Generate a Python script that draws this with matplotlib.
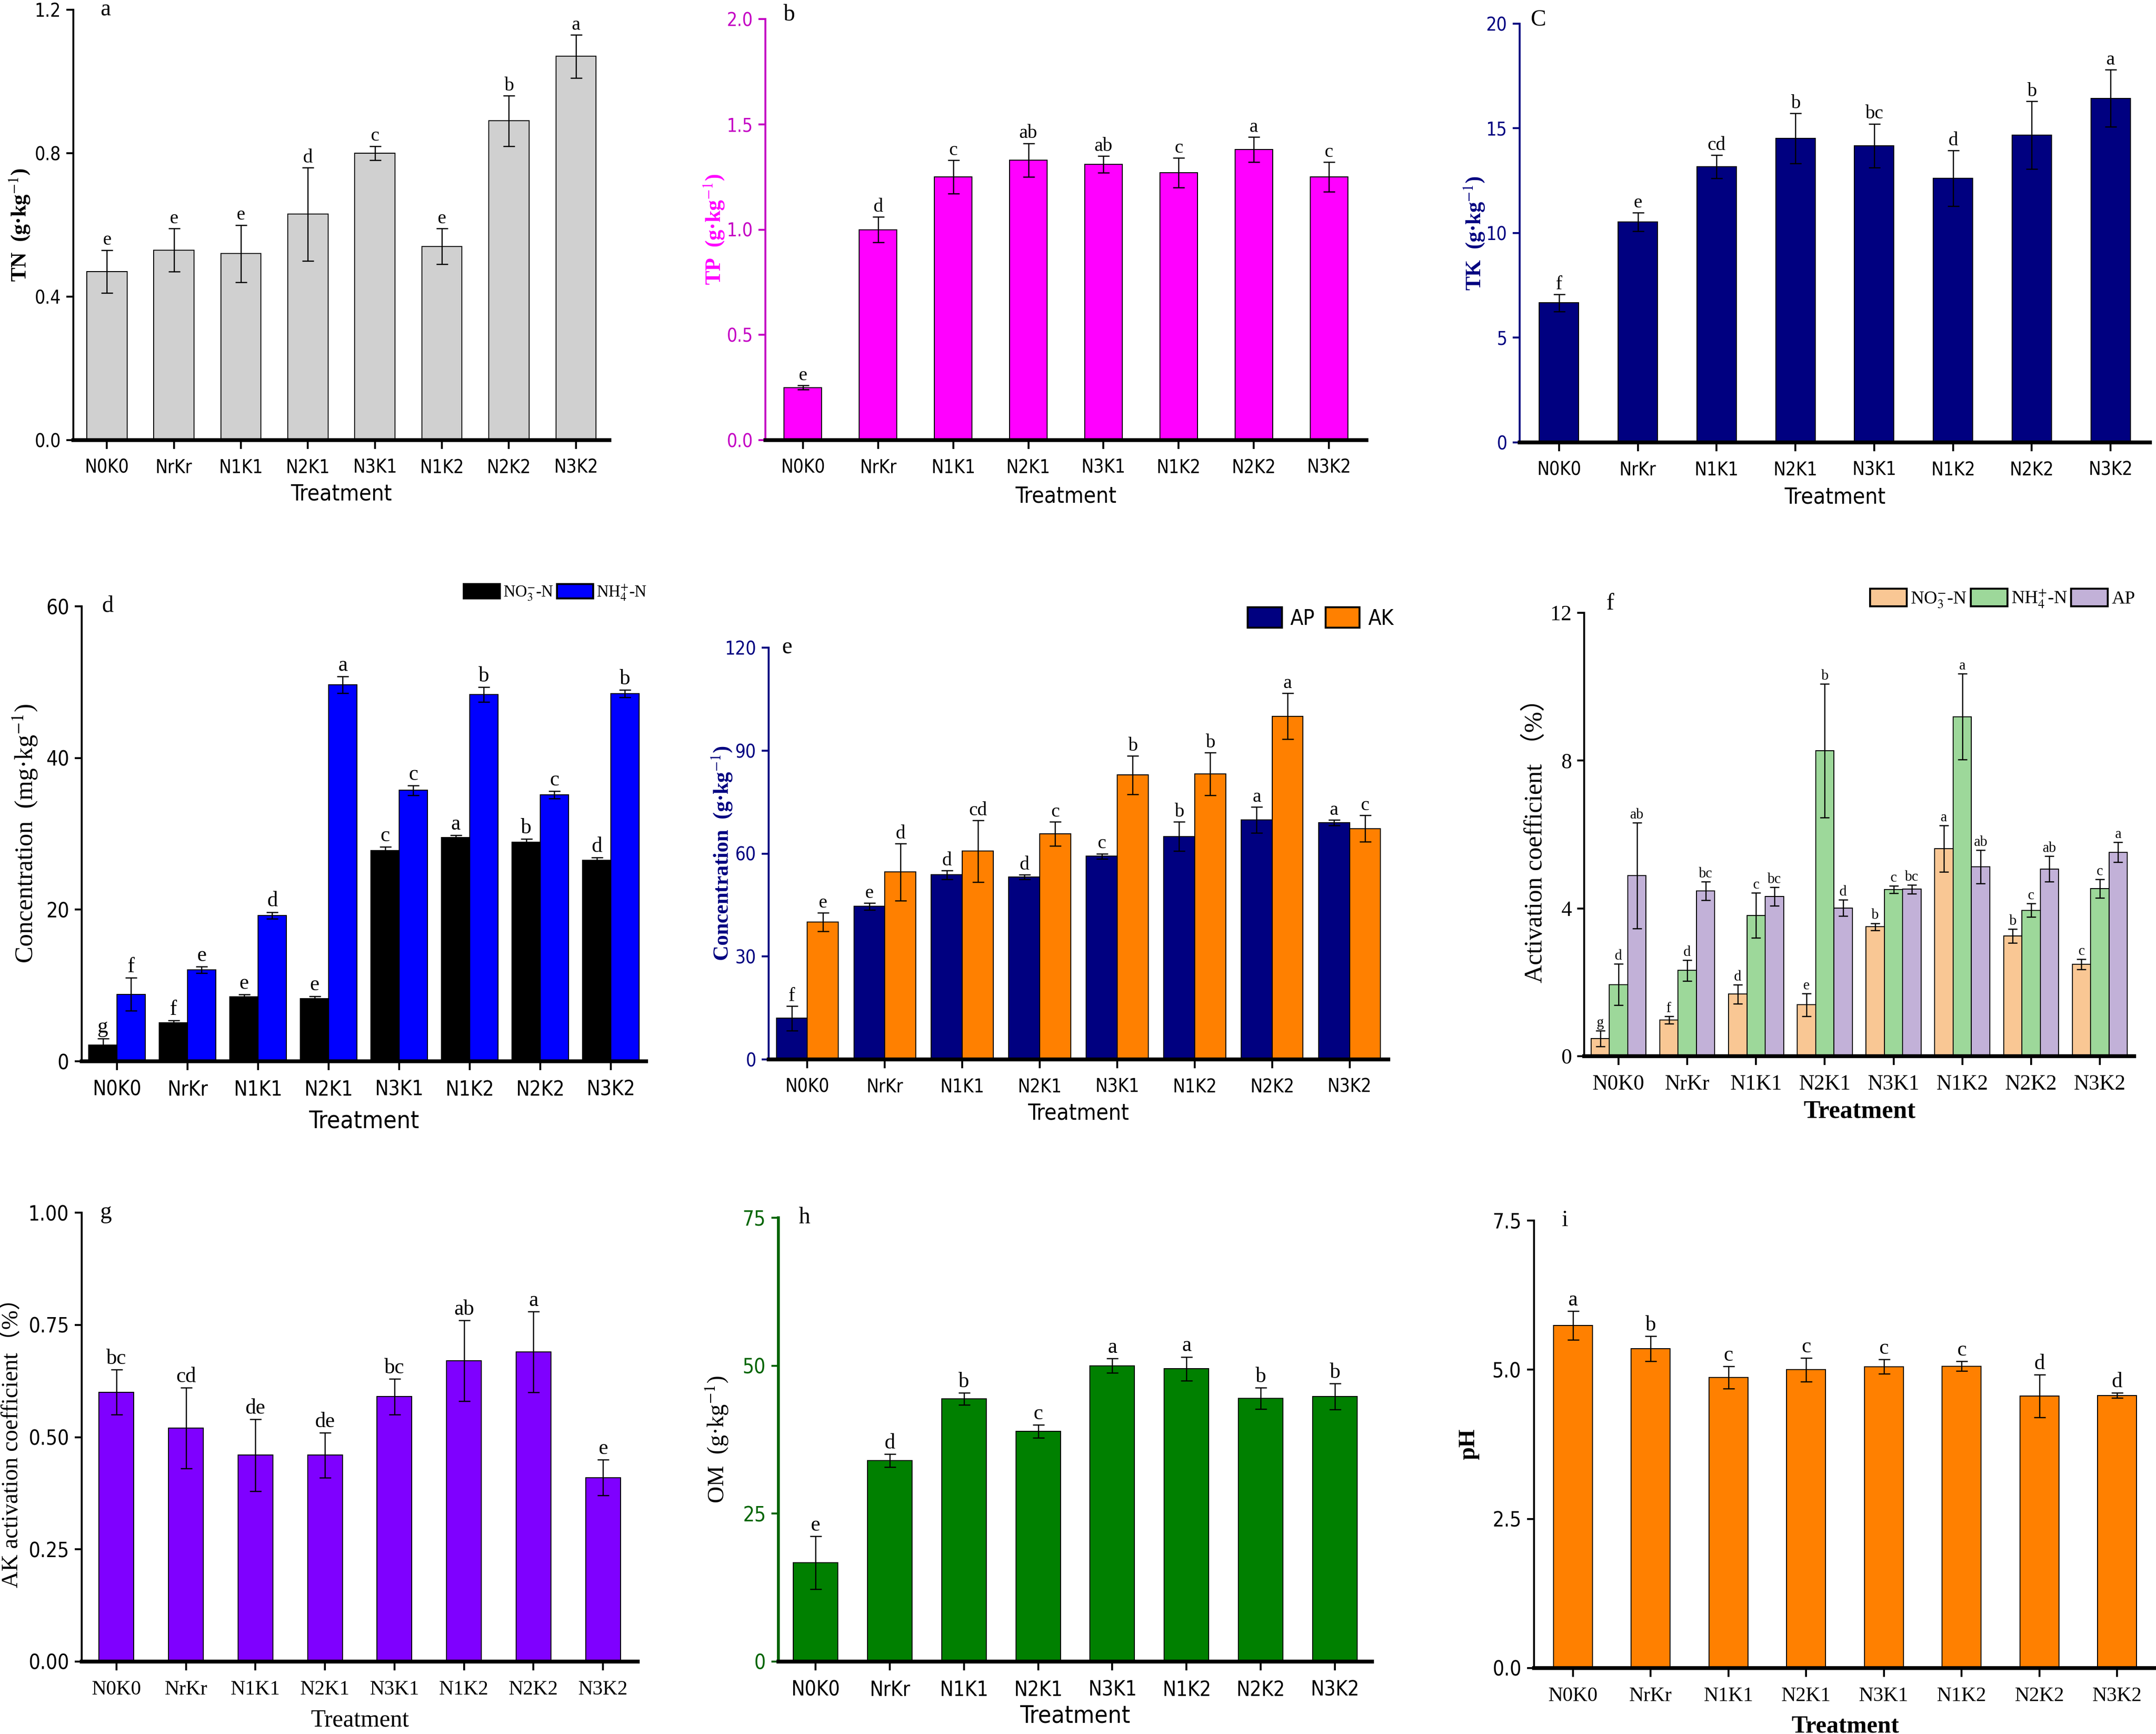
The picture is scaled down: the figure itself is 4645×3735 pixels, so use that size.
import os
import numpy as np
import matplotlib
matplotlib.use("Agg")
import matplotlib.pyplot as plt
from matplotlib import font_manager
from matplotlib.font_manager import FontProperties
from matplotlib.patches import Patch

# ── Data ──
treatments = ["N0K0", "NrKr", "N1K1", "N2K1", "N3K1", "N1K2", "N2K2", "N3K2"]

tn_mean = [0.47, 0.53, 0.52, 0.63, 0.80, 0.54, 0.89, 1.07]
tn_err = [0.06, 0.06, 0.08, 0.13, 0.02, 0.05, 0.07, 0.06]
tn_sig = ["e", "e", "e", "d", "c", "e", "b", "a"]

tp_mean = [0.25, 1.00, 1.25, 1.33, 1.31, 1.27, 1.38, 1.25]
tp_err = [0.01, 0.06, 0.08, 0.08, 0.04, 0.07, 0.06, 0.07]
tp_sig = ["e", "d", "c", "ab", "ab", "c", "a", "c"]

tk_mean = [6.67, 10.53, 13.17, 14.52, 14.17, 12.62, 14.68, 16.44]
tk_err = [0.41, 0.44, 0.55, 1.20, 1.05, 1.33, 1.61, 1.37]
tk_sig = ["f", "e", "cd", "b", "bc", "d", "b", "a"]

no3_mean = [2.15, 5.08, 8.50, 8.25, 27.8, 29.5, 28.9, 26.5]
no3_err = [0.88, 0.30, 0.30, 0.35, 0.50, 0.30, 0.40, 0.35]
no3_sig = ["g", "f", "e", "e", "c", "a", "b", "d"]
nh4_mean = [8.84, 12.06, 19.24, 49.66, 35.74, 48.34, 35.16, 48.49]
nh4_err = [2.15, 0.40, 0.44, 1.12, 0.64, 0.98, 0.49, 0.49]
nh4_sig = ["f", "e", "d", "a", "c", "b", "c", "b"]

ap_mean = [12.0, 44.6, 53.8, 53.2, 59.2, 65.0, 69.8, 69.0]
ap_err = [3.6, 1.0, 1.3, 0.7, 0.8, 4.2, 3.8, 0.8]
ap_sig = ["f", "e", "d", "d", "c", "b", "a", "a"]
ak_mean = [40.0, 54.6, 60.7, 65.7, 82.9, 83.2, 100.0, 67.3]
ak_err = [2.7, 8.3, 9.0, 3.5, 5.6, 6.2, 6.7, 3.9]
ak_sig = ["e", "d", "cd", "c", "b", "b", "a", "c"]

act_no3_mean = [0.48, 0.98, 1.68, 1.39, 3.50, 5.62, 3.25, 2.49]
act_no3_err = [0.21, 0.10, 0.26, 0.31, 0.10, 0.63, 0.19, 0.14]
act_no3_sig = ["g", "f", "d", "e", "b", "a", "b", "c"]
act_nh4_mean = [1.94, 2.32, 3.81, 8.27, 4.51, 9.19, 3.95, 4.54]
act_nh4_err = [0.56, 0.28, 0.61, 1.81, 0.10, 1.16, 0.18, 0.25]
act_nh4_sig = ["d", "d", "c", "b", "c", "a", "c", "c"]
act_ap_mean = [4.89, 4.47, 4.32, 4.01, 4.52, 5.13, 5.07, 5.52]
act_ap_err = [1.43, 0.25, 0.25, 0.22, 0.12, 0.45, 0.35, 0.27]
act_ap_sig = ["ab", "bc", "bc", "d", "bc", "ab", "ab", "a"]

akact_mean = [0.60, 0.52, 0.46, 0.46, 0.59, 0.67, 0.69, 0.41]
akact_err = [0.05, 0.09, 0.08, 0.05, 0.04, 0.09, 0.09, 0.04]
akact_sig = ["bc", "cd", "de", "de", "bc", "ab", "a", "e"]

om_mean = [16.7, 34.0, 44.4, 38.9, 50.0, 49.5, 44.5, 44.8]
om_err = [4.45, 1.1, 1.0, 1.1, 1.2, 2.0, 1.8, 2.2]
om_sig = ["e", "d", "b", "c", "a", "a", "b", "b"]

ph_mean = [5.74, 5.35, 4.87, 5.00, 5.05, 5.06, 4.56, 4.57]
ph_err = [0.24, 0.21, 0.19, 0.20, 0.12, 0.08, 0.36, 0.04]
ph_sig = ["a", "b", "c", "c", "c", "c", "d", "d"]


# ── Fonts: look for a narrow sans face on disk, else plain Liberation Sans ──
def find_narrow():
    files = [f.fname for f in font_manager.fontManager.ttflist]
    for key in ("LiberationSansNarrow-Regular", "DejaVuSansCondensed.ttf",
                "NotoSans-Condensed", "RobotoCondensed-Regular"):
        for fn in files:
            if key in os.path.basename(fn):
                return fn
    return None


_narrow_file = find_narrow()


def narrow(size):
    if _narrow_file:
        return FontProperties(fname=_narrow_file, size=size)
    return FontProperties(family="Liberation Sans", size=size)


def serif(size, weight="normal"):
    return FontProperties(family="Liberation Serif", size=size, weight=weight)


plt.rcParams["font.family"] = ["Liberation Serif", "Noto Sans CJK SC"]
plt.rcParams["mathtext.fontset"] = "stix"

W, H = 4645, 3735
DPI = 300
fig = plt.figure(figsize=(W / DPI, H / DPI), dpi=DPI)


def make_axes(left, right, top, bottom):
    return fig.add_axes([left / W, 1 - bottom / H, (right - left) / W, (bottom - top) / H])


def style_axes(ax, ylim, yticks, fmt, axcolor="black", tickfp=None):
    tickfp = tickfp or narrow(9.5)
    for s in ("top", "right"):
        ax.spines[s].set_visible(False)
    ax.spines["bottom"].set_linewidth(2.0)
    ax.spines["left"].set_linewidth(1.0)
    ax.spines["left"].set_color(axcolor)
    ax.set_xlim(-0.5, 7.5)
    ax.set_ylim(*ylim)
    ax.set_yticks(yticks)
    ax.set_yticklabels([fmt.format(v) for v in yticks], fontproperties=tickfp, color=axcolor)
    ax.set_xticks(range(len(treatments)))
    ax.set_xticklabels(treatments, fontproperties=tickfp)
    ax.tick_params(axis="x", length=4.5, width=1.0, pad=5)
    ax.tick_params(axis="y", length=3.5, width=1.0, color=axcolor, pad=3)


def add_sig(ax, xs, means, errs, sigs, size=10):
    for x, m, e, s in zip(xs, means, errs, sigs):
        ax.annotate(s, (x, m + e), xytext=(0, 0.5), textcoords="offset points",
                    ha="center", va="bottom", fontproperties=serif(size))


def bars(ax, xs, means, errs, width, color, capsize=3):
    ax.bar(xs, means, width=width, color=color, edgecolor="black", linewidth=0.5, zorder=2)
    ax.errorbar(xs, means, yerr=errs, fmt="none", ecolor="black", elinewidth=0.6,
                capsize=capsize, capthick=0.6, zorder=3)


def labels(ax, panel, px, py, ylab, ylx, xlab_y, yfp, xfp, ycolor="black"):
    ax.text(px, py, panel, transform=ax.transAxes, ha="center", va="center",
            fontproperties=serif(12))
    ax.set_ylabel(ylab, fontproperties=yfp, color=ycolor)
    ax.yaxis.set_label_coords(ylx, 0.5)
    ax.yaxis.label.set_va("center")
    ax.set_xlabel("Treatment", fontproperties=xfp)
    ax.xaxis.set_label_coords(0.5, xlab_y)
    ax.xaxis.label.set_va("center")


x = np.arange(len(treatments))
unit_g = "  (g·kg$^{-1}$)"

# a — TN
ax = make_axes(158, 1313, 21, 948)
style_axes(ax, (0, 1.2), [0, 0.4, 0.8, 1.2], "{:.1f}")
bars(ax, x, tn_mean, tn_err, 0.6, "#d0d0d0")
add_sig(ax, x, tn_mean, tn_err, tn_sig)
labels(ax, "a", 0.06, 1.0, "TN" + unit_g, -0.10, -0.125, serif(11, "bold"), narrow(11.5))

# b — TP
magenta_ax = "#c400c4"
ax = make_axes(1649, 2944, 41, 948)
style_axes(ax, (0, 2.0), [0, 0.5, 1.0, 1.5, 2.0], "{:.1f}", axcolor=magenta_ax)
bars(ax, x, tp_mean, tp_err, 0.5, "#ff00ff")
add_sig(ax, x, tp_mean, tp_err, tp_sig)
labels(ax, "b", 0.04, 1.01, "TP" + unit_g, -0.085, -0.133, serif(11, "bold"), narrow(11.5),
       ycolor="#ff00ff")

# c — TK
navy = "#000080"
ax = make_axes(3274, 4632, 51, 953)
style_axes(ax, (0, 20), [0, 5, 10, 15, 20], "{:.0f}", axcolor=navy)
bars(ax, x, tk_mean, tk_err, 0.5, navy)
add_sig(ax, x, tk_mean, tk_err, tk_sig)
labels(ax, "C", 0.03, 1.01, "TK" + unit_g, -0.072, -0.131, serif(11, "bold"), narrow(11.5),
       ycolor=navy)

# d — NO3-N / NH4+-N
ax = make_axes(176, 1392, 1306, 2286)
style_axes(ax, (0, 60), [0, 20, 40, 60], "{:.0f}", tickfp=narrow(10.5))
bars(ax, x - 0.2, no3_mean, no3_err, 0.4, "black")
bars(ax, x + 0.2, nh4_mean, nh4_err, 0.4, "#0000ff")
add_sig(ax, x - 0.2, no3_mean, no3_err, no3_sig, size=11)
add_sig(ax, x + 0.2, nh4_mean, nh4_err, nh4_sig, size=11)
labels(ax, "d", 0.046, 1.0, "Concentration  (mg·kg$^{-1}$)", -0.10, -0.132,
       serif(13), narrow(12.5))
ax.legend(handles=[Patch(facecolor="black", edgecolor="black", label="NO$_3^{-}$-N"),
                   Patch(facecolor="#0000ff", edgecolor="black", label="NH$_4^{+}$-N")],
          loc="center right", bbox_to_anchor=(1394 / W, 1 - 1277 / H),
          bbox_transform=fig.transFigure, ncol=2, frameon=False, prop=serif(8.5),
          handlelength=2.2, handleheight=1.0, handletextpad=0.2, columnspacing=0.2,
          borderpad=0, borderaxespad=0)

# e — AP / AK
orange = "#ff8000"
ax = make_axes(1656, 2991, 1395, 2282)
style_axes(ax, (0, 120), [0, 30, 60, 90, 120], "{:.0f}", axcolor=navy)
bars(ax, x - 0.2, ap_mean, ap_err, 0.4, navy)
bars(ax, x + 0.2, ak_mean, ak_err, 0.4, orange)
add_sig(ax, x - 0.2, ap_mean, ap_err, ap_sig)
add_sig(ax, x + 0.2, ak_mean, ak_err, ak_sig)
labels(ax, "e", 0.03, 1.0, "Concentration" + unit_g, -0.075, -0.131,
       serif(11, "bold"), narrow(11.5), ycolor=navy)
ax.legend(handles=[Patch(facecolor=navy, edgecolor="black", label="AP"),
                   Patch(facecolor=orange, edgecolor="black", label="AK")],
          loc="center right", bbox_to_anchor=(3003 / W, 1 - 1332 / H),
          bbox_transform=fig.transFigure, ncol=2, frameon=False, prop=narrow(11),
          handlelength=1.6, handleheight=1.1, handletextpad=0.4, columnspacing=0.5,
          borderpad=0, borderaxespad=0)

# f — activation coefficients
peach, mint, lavender = "#f9c794", "#9dd89a", "#c2b1d8"
w3 = 0.8 / 3
ax = make_axes(3413, 4598, 1320, 2275)
style_axes(ax, (0, 12), [0, 4, 8, 12], "{:.0f}", tickfp=serif(11))
bars(ax, x - w3, act_no3_mean, act_no3_err, w3, peach, capsize=2.5)
bars(ax, x, act_nh4_mean, act_nh4_err, w3, mint, capsize=2.5)
bars(ax, x + w3, act_ap_mean, act_ap_err, w3, lavender, capsize=2.5)
add_sig(ax, x - w3, act_no3_mean, act_no3_err, act_no3_sig, size=7.5)
add_sig(ax, x, act_nh4_mean, act_nh4_err, act_nh4_sig, size=7.5)
add_sig(ax, x + w3, act_ap_mean, act_ap_err, act_ap_sig, size=7.5)
labels(ax, "f", 0.047, 1.02, "Activation coefficient （%）", -0.089, -0.125,
       FontProperties(family=["Liberation Serif", "Noto Sans CJK SC"], size=13),
       serif(13, "bold"))
ax.legend(handles=[Patch(facecolor=peach, edgecolor="black", label="NO$_3^{-}$-N"),
                   Patch(facecolor=mint, edgecolor="black", label="NH$_4^{+}$-N"),
                   Patch(facecolor=lavender, edgecolor="black", label="AP")],
          loc="center right", bbox_to_anchor=(4600 / W, 1 - 1290 / H),
          bbox_transform=fig.transFigure, ncol=3, frameon=False, prop=serif(9.5),
          handlelength=2.0, handleheight=1.1, handletextpad=0.2, columnspacing=0.2,
          borderpad=0, borderaxespad=0)

# g — AK activation coefficient
ax = make_axes(176, 1374, 2612, 3579)
style_axes(ax, (0, 1.0), [0, 0.25, 0.5, 0.75, 1.0], "{:.2f}", tickfp=narrow(10.5))
ax.set_xticklabels(treatments, fontproperties=serif(10.5))
bars(ax, x, akact_mean, akact_err, 0.5, "#7f00ff")
add_sig(ax, x, akact_mean, akact_err, akact_sig, size=11)
labels(ax, "g", 0.044, 1.0, "AK activation coefficient（%）", -0.126, -0.131,
       FontProperties(family=["Liberation Serif", "Noto Sans CJK SC"], size=12),
       serif(12.5))

# h — OM
green_ax = "#006400"
ax = make_axes(1677, 2956, 2623, 3579)
style_axes(ax, (0, 75), [0, 25, 50, 75], "{:.0f}", axcolor=green_ax, tickfp=narrow(10.5))
ax.spines["left"].set_linewidth(1.5)
bars(ax, x, om_mean, om_err, 0.6, "#008000")
add_sig(ax, x, om_mean, om_err, om_sig, size=11)
labels(ax, "h", 0.044, 1.0, "OM" + unit_g, -0.103, -0.123, serif(12), narrow(12.5))

# i — pH
ax = make_axes(3305, 4645, 2629, 3593)
style_axes(ax, (0, 7.5), [0, 2.5, 5.0, 7.5], "{:.1f}", tickfp=narrow(10.5))
ax.set_xticklabels(treatments, fontproperties=serif(10.5))
bars(ax, x, ph_mean, ph_err, 0.5, orange)
add_sig(ax, x, ph_mean, ph_err, ph_sig, size=11)
labels(ax, "i", 0.05, 1.0, "pH", -0.105, -0.13, serif(12, "bold"), serif(12.5, "bold"))

fig.savefig("out.png", dpi=DPI)
